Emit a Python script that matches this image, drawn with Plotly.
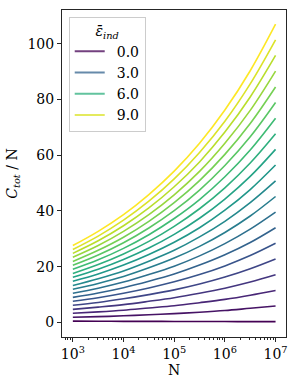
import plotly.graph_objects as go
from plotly.colors import sample_colorscale

# sample positions (log10 N) at which curves were read
log_n = [3.0, 3.5, 4.0, 4.5, 5.0, 5.5, 6.0, 6.5, 7.0]
n_values = [10 ** v for v in log_n]

eps_values = [0.0, 0.5, 1.0, 1.5, 2.0, 2.5, 3.0, 3.5, 4.0, 4.5,
              5.0, 5.5, 6.0, 6.5, 7.0, 7.5, 8.0, 8.5, 9.0, 9.5]

# C_tot / N for each eps (rows) at each N sample (columns)
c_tot_per_n = [
    [0.5, 0.45, 0.42, 0.4, 0.38, 0.36, 0.34, 0.32, 0.3],
    [1.9, 2.1, 2.4, 2.8, 3.2, 3.7, 4.3, 5.1, 5.9],
    [3.3, 3.8, 4.4, 5.2, 6.0, 7.1, 8.3, 9.8, 11.5],
    [4.7, 5.5, 6.4, 7.6, 8.9, 10.5, 12.3, 14.5, 17.1],
    [6.2, 7.2, 8.5, 10.0, 11.7, 13.8, 16.3, 19.3, 22.8],
    [7.6, 8.9, 10.5, 12.4, 14.6, 17.2, 20.3, 24.0, 28.4],
    [9.0, 10.6, 12.5, 14.8, 17.4, 20.6, 24.3, 28.7, 34.0],
    [10.5, 12.3, 14.5, 17.2, 20.2, 23.9, 28.3, 33.5, 39.6],
    [11.9, 14.0, 16.5, 19.6, 23.1, 27.3, 32.3, 38.2, 45.2],
    [13.3, 15.7, 18.5, 22.0, 25.9, 30.7, 36.3, 43.0, 50.8],
    [14.8, 17.4, 20.6, 24.4, 28.8, 34.0, 40.3, 47.7, 56.5],
    [16.2, 19.1, 22.6, 26.7, 31.6, 37.4, 44.3, 52.4, 62.1],
    [17.6, 20.8, 24.6, 29.1, 34.5, 40.8, 48.3, 57.2, 67.7],
    [19.1, 22.5, 26.6, 31.5, 37.3, 44.1, 52.3, 61.9, 73.3],
    [20.5, 24.2, 28.6, 33.9, 40.1, 47.5, 56.3, 66.6, 78.9],
    [21.9, 25.9, 30.6, 36.3, 43.0, 50.9, 60.3, 71.4, 84.5],
    [23.4, 27.6, 32.7, 38.7, 45.8, 54.2, 64.3, 76.1, 90.2],
    [24.8, 29.3, 34.7, 41.1, 48.7, 57.6, 68.3, 80.9, 95.8],
    [26.2, 31.0, 36.7, 43.5, 51.5, 61.0, 72.2, 85.6, 101.4],
    [27.6, 32.7, 38.7, 45.9, 54.3, 64.3, 76.2, 90.3, 107.0],
]

legend_eps = [0.0, 3.0, 6.0, 9.0]
x_tick_vals = [1e3, 1e4, 1e5, 1e6, 1e7]
x_tick_text = ["10<sup>3</sup>", "10<sup>4</sup>", "10<sup>5</sup>", "10<sup>6</sup>", "10<sup>7</sup>"]
x_minor_vals = [k * 10 ** d for d in range(2, 7) for k in range(2, 10) if 700 <= k * 10 ** d <= 1.5e7]
y_tick_vals = [0, 20, 40, 60, 80, 100]

colors = sample_colorscale("Viridis", [i / (len(eps_values) - 1) for i in range(len(eps_values))])

FONT = "DejaVu Serif"
fig = go.Figure()
for eps, ys, col in zip(eps_values, c_tot_per_n, colors):
    fig.add_trace(go.Scatter(x=n_values, y=ys, mode="lines", line=dict(color=col, width=1.6, shape="spline"),
                             showlegend=False, hoverinfo="skip"))
for eps, col in zip(eps_values, colors):
    if eps in legend_eps:
        fig.add_trace(go.Scatter(x=[None], y=[None], mode="lines", line=dict(color=col, width=2),
                                 opacity=0.75, name=f"\u2002{eps:.1f}", showlegend=True))

fig.update_layout(
    width=296, height=386,
    margin=dict(l=62, r=10, t=10, b=49, autoexpand=False),
    paper_bgcolor="white", plot_bgcolor="white",
    font=dict(family=FONT, size=14, color="black"),
    legend=dict(
        x=0.03, y=0.98, xanchor="left", yanchor="top",
        bgcolor="rgba(255,255,255,0.8)", bordercolor="#cccccc", borderwidth=1,
        font=dict(family=FONT, size=14),
        title=dict(text="<i>ε̄</i><sub><i>ind</i></sub>", side="top center", font=dict(family=FONT, size=14)),
        tracegroupgap=0,
    ),
)
fig.update_xaxes(
    type="log", range=[2.786, 7.206], automargin=False,
    tickvals=x_tick_vals, ticktext=x_tick_text,
    tickfont=dict(family=FONT, size=14),
    ticks="outside", ticklen=4, tickcolor="#262626",
    minor=dict(tickvals=x_minor_vals, ticks="outside", ticklen=2, tickwidth=0.8, tickcolor="#262626", showgrid=False),
    showline=True, linecolor="#262626", linewidth=1, mirror=True, showgrid=False, zeroline=False,
    title=dict(text="N", standoff=2, font=dict(family=FONT, size=14)),
)
fig.update_yaxes(
    range=[-5.2, 112.1], tickvals=y_tick_vals, automargin=False,
    tickfont=dict(family=FONT, size=14),
    ticks="outside", ticklen=4, tickcolor="#262626",
    showline=True, linecolor="#262626", linewidth=1, mirror=True, showgrid=False, zeroline=False,
    title=dict(text="<i>C</i><sub><i>tot</i></sub> / N", standoff=6, font=dict(family=FONT, size=14)),
)

fig.write_html("out.html", config={"displayModeBar": False},
               post_script="document.body.style.margin='0';document.body.style.padding='0';")
